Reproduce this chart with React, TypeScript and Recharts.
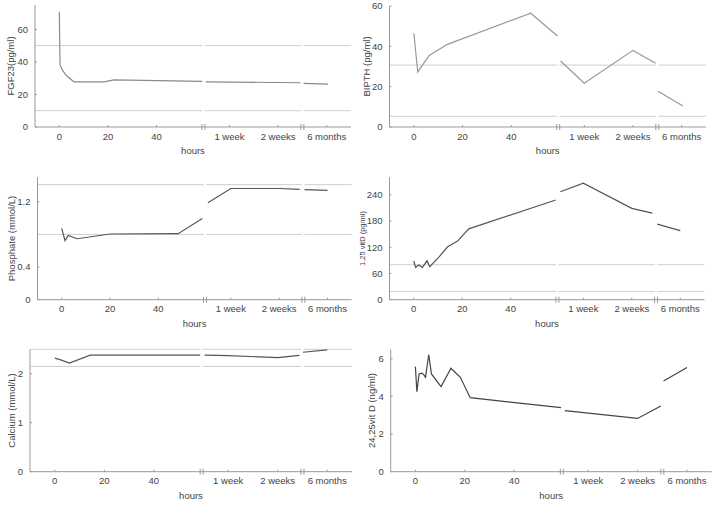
import React from 'react';
import { LineChart, Line, XAxis, YAxis, ReferenceLine } from 'recharts';

type Pt = [number, number | null];

// x axis: real hours up to the first break, then the weeks block (1 week = 70, 2 weeks = 90),
// then the months block (6 months = 110)
const xTicks = [0, 20, 40, 59.3, 70, 90, 100, 110];
const xTickLabels = ['0', '20', '40', '', '1 week', '2 weeks', '', '6 months'];
const breaks = [59.3, 100];
const blocks = [
  [-10, 58.8],
  [59.8, 99.5],
  [100.5, 120],
];

// series, null = gap between blocks
const fgf23: Pt[] = [
  [0, 70.9], [0.3, 38.3], [1.4, 34.6], [3, 31.5], [6, 27.8], [18.5, 27.8], [22.5, 29], [58.8, 28],
  [59.3, null], [60.3, 27.8], [99.3, 27.2],
  [100, null], [100.5, 26.8], [110.5, 26.4],
];
const bpth: Pt[] = [
  [0, 46.5], [1.6, 27.3], [6.3, 35.5], [13.8, 41], [48, 56.4], [59, 45.1],
  [59.3, null], [60.3, 32.7], [70, 21.7], [90, 38], [99.3, 31.6],
  [100, null], [100.3, 17.7], [110.5, 10.4],
];
const phosphate: Pt[] = [
  [0, 0.874], [1.4, 0.723], [2.7, 0.788], [6.4, 0.747], [20, 0.805], [48.2, 0.809], [58.2, 0.994],
  [59.3, null], [60.5, 1.187], [70, 1.363], [90, 1.363], [98.5, 1.351],
  [100, null], [100.5, 1.35], [110, 1.339],
];
const vitD125: Pt[] = [
  [0, 88.6], [0.8, 74], [2, 79.5], [3.6, 74], [5.5, 89], [6.6, 75.6], [10.3, 97], [14, 121], [18.1, 134],
  [22.7, 162], [58.6, 228],
  [59.3, null], [60.5, 247], [70, 266.5], [90, 209], [98.5, 198],
  [100, null], [100.5, 173], [110, 158],
];
const calcium: Pt[] = [
  [0, 2.32], [2.1, 2.29], [5.9, 2.22], [14.3, 2.38], [58.7, 2.38],
  [59.3, null], [60.5, 2.38], [70, 2.37], [90, 2.33], [98.8, 2.376],
  [100, null], [100.2, 2.44], [110, 2.49],
];
const vitD2425: Pt[] = [
  [0, 5.58], [0.6, 4.25], [1.5, 5.19], [2.6, 5.23], [3.3, 5.17], [4.1, 5.01], [5.4, 6.21], [6.5, 5.19],
  [10.4, 4.52], [14.4, 5.49], [18.2, 5.01], [22.2, 3.93], [59, 3.4],
  [59.3, null], [60.5, 3.24], [90, 2.83], [99.4, 3.49],
  [100, null], [100.5, 4.82], [110, 5.53],
];

// normal ranges
const fgf23Refs = [50, 10];
const bpthRefs = [30.7, 5.3];
const phosphateRefs = [1.41, 0.8];
const vitD125Refs = [80, 19];
const calciumRefs = [2.5, 2.15];
const vitD2425Refs: number[] = [];

const FONT = '"Liberation Sans", Arial, sans-serif';
const AXIS = '#999';
const TEXT = '#444';

const XTick = ({ x, y, payload }: any) => {
  if (breaks.includes(payload.value)) {
    return <path d={`M${x - 1.5},${y - 3}v6M${x + 1.5},${y - 3}v6`} stroke={AXIS} fill="none" />;
  }
  const label = xTickLabels[xTicks.indexOf(payload.value)];
  return (
    <g>
      <line x1={x} x2={x} y1={y} y2={y - 2} stroke={AXIS} />
      <text x={x} y={y + 12.7} textAnchor="middle" fontSize={9.5} fill={TEXT} fontFamily={FONT}>
        {label}
      </text>
    </g>
  );
};

const YTick = ({ x, y, payload }: any) => (
  <g>
    <line x1={x} x2={x + 2} y1={y} y2={y} stroke={AXIS} />
    <text x={x - 7} y={y + 3.4} textAnchor="end" fontSize={9.5} fill={TEXT} fontFamily={FONT}>
      {String(payload.value)}
    </text>
  </g>
);

const Panel = ({ left, top, width = 360, plot, points, refs, domain, yTicks, label, labelX, labelSize = 9.5, color }: any) => {
  const H = 167;
  const yw = 38;
  const xh = 30;
  const margin = {
    left: plot[0] - left - yw,
    top: plot[1] - top,
    right: left + width - plot[2],
    bottom: top + H - plot[3] - xh,
  };
  const data = points.map(([t, v]: Pt) => ({ t, v }));

  return (
    <div style={{ position: 'absolute', left, top }}>
      <LineChart width={width} height={H} data={data} margin={margin}>
        <XAxis
          dataKey="t"
          type="number"
          domain={[-10, 120]}
          allowDataOverflow
          ticks={xTicks}
          interval={0}
          tick={(p: any) => <XTick {...p} />}
          tickLine={false}
          tickSize={0}
          tickMargin={0}
          axisLine={{ stroke: AXIS }}
          height={xh}
          label={{ value: 'hours', position: 'insideBottom', offset: 2.7, fontSize: 9.5, fill: TEXT, fontFamily: FONT }}
        />
        <YAxis
          type="number"
          domain={domain}
          ticks={yTicks}
          interval={0}
          width={yw}
          tick={(p: any) => <YTick {...p} />}
          tickLine={false}
          tickSize={0}
          tickMargin={0}
          axisLine={{ stroke: AXIS }}
          label={{
            value: label,
            angle: -90,
            position: 'center',
            dx: labelX - (plot[0] - yw / 2),
            fontSize: labelSize,
            fill: TEXT,
            fontFamily: FONT,
          }}
        />
        {refs.map((v: number) =>
          blocks.map(([a, b], k) => (
            <ReferenceLine
              key={`${v}-${k}`}
              segment={[{ x: a, y: v }, { x: b, y: v }]}
              stroke="#cfcfcf"
              ifOverflow="visible"
            />
          ))
        )}
        <Line
          dataKey="v"
          type="linear"
          stroke={color}
          strokeWidth={1.2}
          dot={false}
          activeDot={false}
          connectNulls={false}
          isAnimationActive={false}
        />
      </LineChart>
    </div>
  );
};

export default function App() {
  return (
    <div style={{ position: 'absolute', left: 0, top: 0, width: 720, height: 507, background: '#fff', fontFamily: FONT }}>
      <Panel left={-10} top={0} width={370} plot={[35, 5, 351, 127]} points={fgf23} refs={fgf23Refs}
        domain={[0, 75]} yTicks={[0, 20, 40, 60]} label="FGF23(pg/ml)" labelX={11} color="#8a8a8a" />
      <Panel left={350} top={0} width={370} plot={[389.5, 6, 706, 127]} points={bpth} refs={bpthRefs}
        domain={[0, 60]} yTicks={[0, 20, 40, 60]} label="BIPTH (pg/ml)" labelX={366.7} color="#999" />
      <Panel left={-10} top={172} width={370} plot={[37.5, 177.3, 351.7, 299.7]} points={phosphate} refs={phosphateRefs}
        domain={[0, 1.5]} yTicks={[0, 0.4, 1.2]} label="Phosphate (mmol/L)" labelX={11.7} color="#555" />
      <Panel left={350} top={172} width={370} plot={[389.5, 177.3, 704.5, 299.7]} points={vitD125} refs={vitD125Refs}
        domain={[0, 280]} yTicks={[0, 60, 120, 180, 240]} label="1.25 vitD (pg/ml)" labelX={362.7} labelSize={7.5} color="#555" />
      <Panel left={-10} top={340} width={370} plot={[30, 349.3, 352, 471.7]} points={calcium} refs={calciumRefs}
        domain={[0, 2.5]} yTicks={[0, 1, 2]} label="Calcium (mmol/L)" labelX={11.7} color="#555" />
      <Panel left={350} top={340} width={370} plot={[390.7, 349.3, 711.7, 471.7]} points={vitD2425} refs={vitD2425Refs}
        domain={[0, 6.5]} yTicks={[0, 2, 4, 6]} label="24,25vit D (ng/ml)" labelX={372} color="#444" />
    </div>
  );
}
